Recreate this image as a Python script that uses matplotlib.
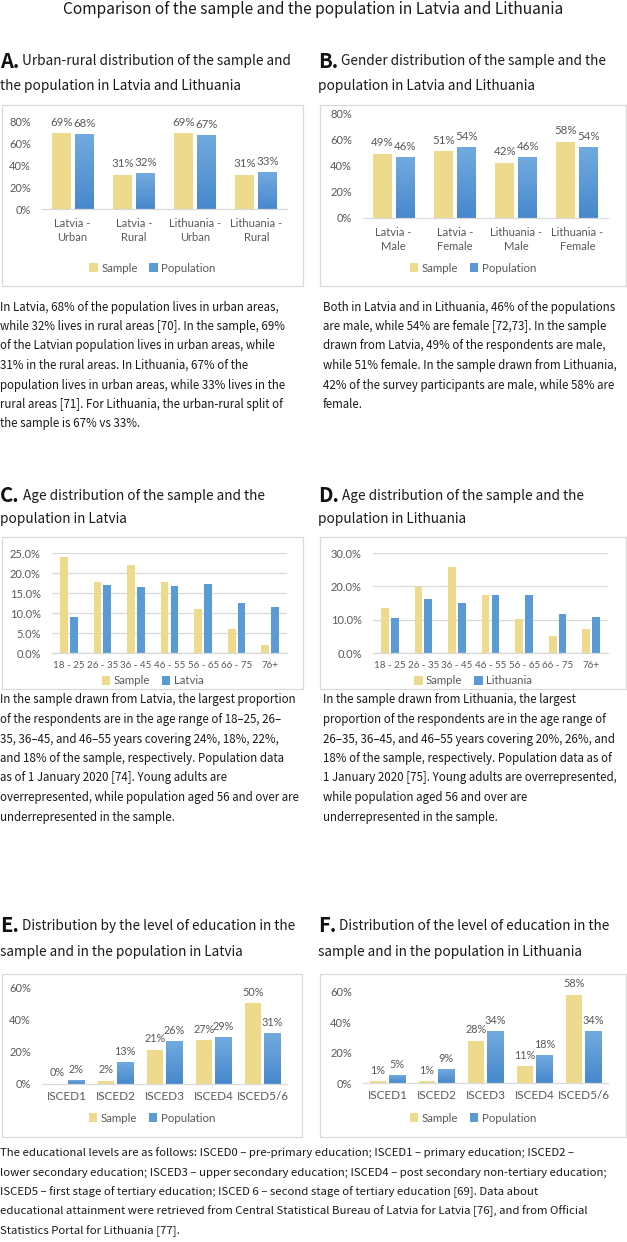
import numpy as np
import matplotlib
matplotlib.use('Agg')
import matplotlib.pyplot as plt
from matplotlib.patches import Rectangle, Patch
from matplotlib.colors import LinearSegmentedColormap
from matplotlib.ticker import FuncFormatter

# ---------------- data ----------------
title = "Comparison of the sample and the population in Latvia and Lithuania"

a_categories = ['Latvia -\nUrban', 'Latvia -\nRural', 'Lithuania -\nUrban', 'Lithuania -\nRural']
a_sample = [69, 31, 69, 31]
a_population = [68, 32, 67, 33]

b_categories = ['Latvia -\nMale', 'Latvia -\nFemale', 'Lithuania -\nMale', 'Lithuania -\nFemale']
b_sample = [49, 51, 42, 58]
b_population = [46, 54, 46, 54]

age_groups = ['18 - 25', '26 - 35', '36 - 45', '46 - 55', '56 - 65', '66 - 75', '76+']
c_sample = [23.9, 17.8, 21.9, 17.8, 10.9, 6.0, 2.0]
c_latvia = [9.0, 17.0, 16.4, 16.8, 17.3, 12.5, 11.4]
d_sample = [13.4, 19.8, 25.9, 17.5, 10.3, 5.1, 7.2]
d_lithuania = [10.4, 16.2, 15.0, 17.3, 17.5, 11.6, 10.9]

isced = ['ISCED1', 'ISCED2', 'ISCED3', 'ISCED4', 'ISCED5/6']
e_sample = [0, 2, 21, 27, 50]
e_population = [2, 13, 26, 29, 31]
f_sample = [1, 1, 28, 11, 58]
f_population = [5, 9, 34, 18, 34]

head_a = ["Urban-rural distribution of the sample and", "the population in Latvia and Lithuania"]
head_b = ["Gender distribution of the sample and the", "population in Latvia and Lithuania"]
head_c = ["Age distribution of the sample and the", "population in Latvia"]
head_d = ["Age distribution of the sample and the", "population in Lithuania"]
head_e = ["Distribution by the level of education in the", "sample and in the population in Latvia"]
head_f = ["Distribution of the level of education in the", "sample and in the population in Lithuania"]

text_a = ["In Latvia, 68% of the population lives in urban areas,",
          "while 32% lives in rural areas [70]. In the sample, 69%",
          "of the Latvian population lives in urban areas, while",
          "31% in the rural areas. In Lithuania, 67% of the",
          "population lives in urban areas, while 33% lives in the",
          "rural areas [71]. For Lithuania, the urban-rural split of",
          "the sample is 67% vs 33%."]
text_b = ["Both in Latvia and in Lithuania, 46% of the populations",
          "are male, while 54% are female [72,73]. In the sample",
          "drawn from Latvia, 49% of the respondents are male,",
          "while 51% female. In the sample drawn from Lithuania,",
          "42% of the survey participants are male, while 58% are",
          "female."]
text_c = ["In the sample drawn from Latvia, the largest proportion",
          "of the respondents are in the age range of 18\u201325, 26\u2013",
          "35, 36\u201345, and 46\u201355 years covering 24%, 18%, 22%,",
          "and 18% of the sample, respectively. Population data",
          "as of 1 January 2020 [74]. Young adults are",
          "overrepresented, while population aged 56 and over are",
          "underrepresented in the sample."]
text_d = ["In the sample drawn from Lithuania, the largest",
          "proportion of the respondents are in the age range of",
          "26\u201335, 36\u201345, and 46\u201355 years covering 20%, 26%, and",
          "18% of the sample, respectively. Population data as of",
          "1 January 2020 [75]. Young adults are overrepresented,",
          "while population aged 56 and over are",
          "underrepresented in the sample."]
text_bottom = ["The educational levels are as follows: ISCED0 \u2013 pre-primary education; ISCED1 \u2013 primary education; ISCED2 \u2013",
               "lower secondary education; ISCED3 \u2013 upper secondary education; ISCED4 \u2013 post secondary non-tertiary education;",
               "ISCED5 \u2013 first stage of tertiary education; ISCED 6 \u2013 second stage of tertiary education [69]. Data about",
               "educational attainment were retrieved from Central Statistical Bureau of Latvia for Latvia [76], and from Official",
               "Statistics Portal for Lithuania [77]."]

# ---------------- style ----------------
W, H = 627, 1242
SAMPLE_C = '#EEDA8C'
POP_C = '#5B9BD5'
GRID_C = '#D9D9D9'
TICK_C = '#595959'
TEXT_FONT = ['Noto Sans CJK JP', 'DejaVu Sans']
CHART_FONT = ['Lato', 'DejaVu Sans']
BODY_FS = 8.3
HEAD_FS = 9.8
blue_grad = LinearSegmentedColormap.from_list('bg', ['#4788CD', '#72AADF'])

fig = plt.figure(figsize=(W / 100, H / 100), dpi=100)
fig.patch.set_facecolor('white')


def fx(x):
    return x / W


def fy(y):
    return 1 - y / H


def add_box(x0, y0, x1, y1):
    fig.patches.append(Rectangle((fx(x0), fy(y1)), (x1 - x0) / W, (y1 - y0) / H,
                                 transform=fig.transFigure, fill=False,
                                 ec=GRID_C, lw=0.9))


def lines_text(x, y0, lines, dy, size, color='#1a1a1a'):
    for i, ln in enumerate(lines):
        fig.text(fx(x), fy(y0 + i * dy), ln, fontsize=size, family=TEXT_FONT,
                 color=color, ha='left', va='center')


def heading(x, y0, letter, lines, dy=25):
    t = fig.text(fx(x), fy(y0), letter + '.', fontsize=14.5, fontweight='bold',
                 family=TEXT_FONT, color='#111111', ha='left', va='center')
    fig.canvas.draw()
    bb = t.get_window_extent()
    xx = bb.x1 + 3
    fig.text(xx / W, fy(y0), lines[0], fontsize=HEAD_FS, family=TEXT_FONT,
             color='#1a1a1a', ha='left', va='center')
    fig.text(fx(x), fy(y0 + dy), lines[1], fontsize=HEAD_FS, family=TEXT_FONT,
             color='#1a1a1a', ha='left', va='center')


def grad(ax, bars):
    g = np.linspace(0, 1, 64).reshape(-1, 1)
    for b in bars:
        x0, w, h = b.get_x(), b.get_width(), b.get_height()
        if h <= 0:
            continue
        ax.imshow(g, extent=[x0, x0 + w, 0, h], origin='lower', aspect='auto',
                  cmap=blue_grad, zorder=2.5)


def chart(box, plot, cats, s_vals, p_vals, names, ymax, ystep, tickfmt,
          bar_w, gap, grid, gradient, labels, legend_y, cat_fs=8, tick_fs=8,
          cat_pad=6.5, label_off=4, label_fs=8.3):
    add_box(*box)
    x0, ytop, x1, ybot = plot
    ax = fig.add_axes([fx(x0), fy(ybot), (x1 - x0) / W, (ybot - ytop) / H])
    ax.set_facecolor('none')
    n = len(cats)
    x = np.arange(n)
    off = (bar_w + gap) / 2
    b1 = ax.bar(x - off, s_vals, bar_w, color=SAMPLE_C, zorder=2)
    b2 = ax.bar(x + off, p_vals, bar_w, color=POP_C, zorder=2)
    if gradient:
        grad(ax, b2)
    ax.set_xlim(-0.5, n - 0.5)
    ax.set_ylim(0, ymax)
    ax.set_yticks(np.arange(0, ymax + ystep / 2, ystep))
    ax.yaxis.set_major_formatter(FuncFormatter(tickfmt))
    ax.set_xticks(x)
    ax.set_xticklabels(cats, linespacing=1.3)
    for sp in ['top', 'left', 'right']:
        ax.spines[sp].set_visible(False)
    ax.spines['bottom'].set_color(GRID_C)
    ax.spines['bottom'].set_linewidth(0.9)
    ax.tick_params(axis='both', length=0, colors=TICK_C)
    ax.tick_params(axis='y', pad=8, labelsize=tick_fs)
    ax.tick_params(axis='x', pad=cat_pad, labelsize=cat_fs)
    for lab in ax.get_xticklabels() + ax.get_yticklabels():
        lab.set_family(CHART_FONT)
    if grid:
        ax.yaxis.grid(True, color=GRID_C, lw=0.9)
        ax.set_axisbelow(True)
    if labels:
        for bars, vals in ((b1, s_vals), (b2, p_vals)):
            for b, v in zip(bars, vals):
                ax.annotate(f"{v:.0f}%", (b.get_x() + b.get_width() / 2, b.get_height()),
                            xytext=(0, label_off), textcoords='offset points',
                            ha='center', va='bottom', fontsize=label_fs, color=TICK_C,
                            family=CHART_FONT, annotation_clip=False)
    leg = fig.legend(handles=[Patch(fc=SAMPLE_C), Patch(fc=POP_C)], labels=names,
                     loc='center', bbox_to_anchor=(fx((box[0] + box[2]) / 2), fy(legend_y)),
                     bbox_transform=fig.transFigure, ncol=2, frameon=False,
                     handlelength=0.75, handleheight=0.75, handletextpad=0.3,
                     columnspacing=1.0, borderaxespad=0, borderpad=0,
                     prop={'family': CHART_FONT, 'size': 8.3})
    for t in leg.get_texts():
        t.set_color(TICK_C)
    return ax


pct0 = lambda v, p: f"{v:.0f}%"
pct1 = lambda v, p: f"{v:.1f}%"

# ---------------- title ----------------
fig.text(0.5, fy(10), title, fontsize=11.2, family=TEXT_FONT, color='#1a1a1a',
         ha='center', va='center')

# ---------------- A / B ----------------
heading(0, 61, 'A', head_a)
heading(318, 61, 'B', head_b)

chart((2, 105, 303, 286), (42, 121, 287, 209), a_categories, a_sample, a_population,
      ['Sample', 'Population'], 80, 20, pct0, 0.31, 0.065, False, True, True, 268)
chart((320, 105, 626, 286), (363, 113, 608, 218), b_categories, b_sample, b_population,
      ['Sample', 'Population'], 80, 20, pct0, 0.31, 0.065, False, True, True, 268)

lines_text(0, 307, text_a, 19.5, BODY_FS)
lines_text(323, 307, text_b, 19.5, BODY_FS)

# ---------------- C / D ----------------
heading(0, 496, 'C', head_c, dy=23)
heading(318, 496, 'D', head_d, dy=23)

chart((2, 537, 303, 689), (52, 553, 287, 653), age_groups, c_sample, c_latvia,
      ['Sample', 'Latvia'], 25, 5, pct1, 0.23, 0.06, True, False, False, 681,
      cat_fs=7.0, tick_fs=8, cat_pad=6)
chart((320, 537, 626, 689), (373, 553, 608, 653), age_groups, d_sample, d_lithuania,
      ['Sample', 'Lithuania'], 30, 10, pct1, 0.23, 0.06, True, False, False, 681,
      cat_fs=7.0, tick_fs=8, cat_pad=6)

lines_text(0, 700, text_c, 19.5, BODY_FS)
lines_text(323, 700, text_d, 19.5, BODY_FS)

# ---------------- E / F ----------------
heading(0, 926, 'E', head_e, dy=26)
heading(318, 926, 'F', head_f, dy=26)

chart((2, 974, 302, 1137), (42, 987, 287, 1084), isced, e_sample, e_population,
      ['Sample', 'Population'], 60, 20, pct0, 0.33, 0.07, False, True, True, 1118,
      cat_fs=8.5, cat_pad=5, label_fs=7.8)
chart((320, 974, 626, 1137), (363, 992, 608, 1083), isced, f_sample, f_population,
      ['Sample', 'Population'], 60, 20, pct0, 0.33, 0.07, False, True, True, 1118,
      cat_fs=8.5, cat_pad=5, label_fs=7.8)

lines_text(0, 1153, text_bottom, 19.5, 8.2)

fig.savefig('out.png', dpi=100, facecolor='white')
